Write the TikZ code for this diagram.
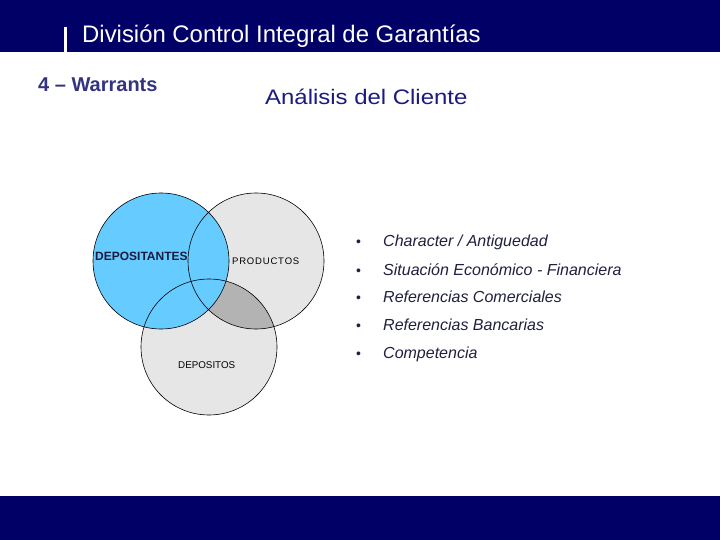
\documentclass[tikz,border=0pt]{standalone}
\usepackage{fontspec}
\setmainfont{Liberation Sans}
\usetikzlibrary{positioning}
\definecolor{navybar}{HTML}{000066}
\definecolor{warrant}{HTML}{333380}
\definecolor{titleblue}{HTML}{1A1A80}
\definecolor{bluec}{HTML}{66CCFF}
\definecolor{grayc}{HTML}{E6E6E6}
\definecolor{darkc}{HTML}{B3B3B3}
\definecolor{listtxt}{HTML}{202040}
\definecolor{labtxt}{HTML}{1A1A40}
\tikzset{
  circ/.style={draw=black, line width=0.6pt},
  listitem/.style={anchor=base west, text=listtxt, font=\fontsize{16}{16}\selectfont\itshape, inner sep=0pt},
  bulletnode/.style={anchor=base west, text=listtxt, font=\fontsize{14}{14}\selectfont, inner sep=0pt}
}
\newcommand{\lsp}{\hspace{0.8pt}}
\begin{document}
\begin{tikzpicture}[x=1pt,y=-1pt]
\useasboundingbox (0,0) rectangle (720,540);
\fill[white] (0,0) rectangle (720,540);
% top bar
\fill[navybar] (0,0) rectangle (720,52);
\fill[white] (64,27) rectangle (67,55);
\node[anchor=base west, text=white, inner sep=0pt] (title) at (82,43)
  {\fontsize{23.9}{23.9}\selectfont División Control Integral de Garantías};
% bottom bar
\fill[navybar] (0,496) rectangle (720,540);
% headings
\node[anchor=base west, text=warrant, inner sep=0pt] (warr) at (38,92)
  {\fontsize{20}{20}\selectfont\bfseries 4 – Warrants};
\node[anchor=base west, text=titleblue, inner sep=0pt] (anal) at (265,105)
  {\scalebox{1.14}[1]{\fontsize{21}{21}\selectfont Análisis del Cliente}};
% venn
\coordinate (cb) at (161,261);
\coordinate (cp) at (256,261);
\coordinate (cd) at (209,347);
\fill[grayc] (cp) circle (68);
\fill[grayc] (cd) circle (68);
\begin{scope}
  \clip (cp) circle (68);
  \fill[darkc] (cd) circle (68);
\end{scope}
\fill[bluec] (cb) circle (68);
\draw[circ] (cp) circle (68);
\draw[circ] (cd) circle (68);
\draw[circ] (cb) circle (68);
\node[anchor=base west, text=labtxt, inner sep=0pt] (dep) at (95,260)
  {\fontsize{12}{12}\selectfont\bfseries DEPOSITANTES};
\node[anchor=base west, text=black, inner sep=0pt] (prod) at (232,264.5)
  {\fontsize{9.5}{9.5}\selectfont P\lsp R\lsp O\lsp D\lsp U\lsp C\lsp T\lsp O\lsp S};
\node[anchor=base west, text=black, inner sep=0pt] (depo) at (178,368.5)
  {\fontsize{9.8}{9.8}\selectfont DEPOSITOS};
% list
\foreach \y/\t [count=\i] in {247/{Character / Antiguedad}, 275/{Situación Económico - Financiera}, 302/{Referencias Comerciales}, 330/{Referencias Bancarias}, 358/{Competencia}}{
  \node[bulletnode] (b\i) at (356,\y) {•};
  \node[listitem] (t\i) at (383,\y) {\t};
}
\end{tikzpicture}
\end{document}
